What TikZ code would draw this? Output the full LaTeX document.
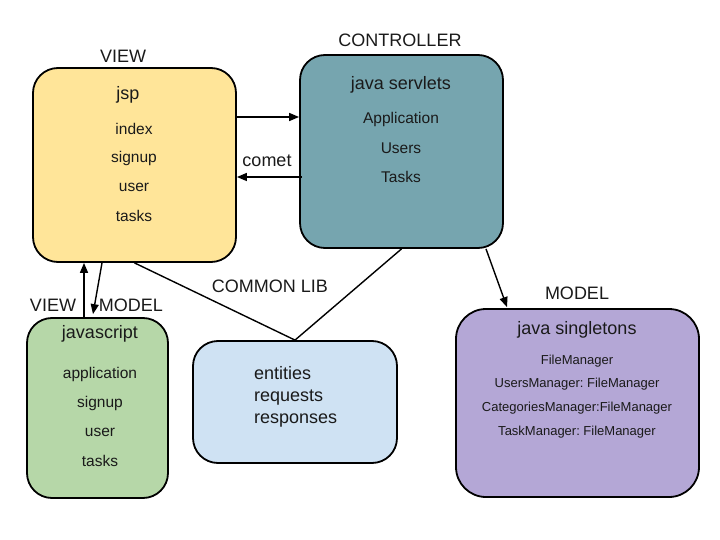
\documentclass[tikz,border=0pt]{standalone}
\usepackage{fontspec}
\setmainfont{Liberation Sans}
\usetikzlibrary{arrows.meta,calc}
\frenchspacing
\definecolor{jspfill}{HTML}{FFE599}
\definecolor{ctrlfill}{HTML}{76A5AF}
\definecolor{jsfill}{HTML}{B6D7A8}
\definecolor{libfill}{HTML}{CFE2F3}
\definecolor{modelfill}{HTML}{B4A7D6}
\definecolor{txt}{HTML}{1A1A1A}
\tikzset{
  box/.style={draw=black, line width=1.8pt, rounded corners=25pt, inner sep=0pt},
  lbl/.style={inner sep=0pt, text=txt, font=\fontsize{18}{20}\selectfont},
  ttl/.style={inner sep=0pt, text=txt, font=\fontsize{18}{20}\selectfont},
  item/.style={inner sep=0pt, text=txt, font=\fontsize{15.5}{18}\selectfont},
  small/.style={inner sep=0pt, text=txt, font=\fontsize{13}{15}\selectfont},
  arr/.style={line width=1.4pt, -{Triangle[length=10pt,width=8pt]}},
  conn/.style={line width=1.4pt}
}
\begin{document}
\begin{tikzpicture}[x=1pt,y=-1pt]
\useasboundingbox (0,0) rectangle (720,540);
% boxes
\node[box, fill=jspfill, minimum width=203pt, minimum height=194pt] (jsp) at (134.5,165) {};
\node[box, fill=ctrlfill, minimum width=203pt, minimum height=193pt] (ctrl) at (401.5,151.5) {};
\node[box, fill=jsfill, minimum width=141pt, minimum height=180pt] (js) at (97.5,408) {};
\node[box, fill=libfill, minimum width=204pt, minimum height=122pt] (lib) at (295,402) {};
\node[box, fill=modelfill, minimum width=243pt, minimum height=188pt, rounded corners=30pt] (model) at (577.5,403) {};
% labels
\node[lbl] (lview) at (123,56) {VIEW};
\node[lbl] (lctrl) at (400,40) {CONTROLLER};
\node[lbl] (lmodel) at (577,293) {MODEL};
\node[lbl] (llib) at (270,286) {COMMON LIB};
\node[lbl] (lview2) at (53,305) {VIEW};
\node[lbl] (lmodel2) at (131,305) {MODEL};
\node[lbl] (lcomet) at (267,161) {comet};
% jsp text
\node[ttl] (tjsp) at (128,95) {jsp};
\node[item] (j1) at (134,129) {index};
\node[item] (j2) at (134,158) {signup};
\node[item] (j3) at (134,187) {user};
\node[item] (j4) at (134,216) {tasks};
% controller text
\node[ttl] (tctrl) at (401,85) {java servlets};
\node[item] (c1) at (401,119) {Application};
\node[item] (c2) at (401,148) {Users};
\node[item] (c3) at (401,177) {Tasks};
% javascript text
\node[ttl] (tjs) at (100,334) {javascript};
\node[item] (s1) at (100,374) {application};
\node[item] (s2) at (100,403) {signup};
\node[item] (s3) at (100,432) {user};
\node[item] (s4) at (100,461) {tasks};
% common lib text
\node[ttl, align=left, anchor=west, font=\fontsize{18}{22}\selectfont] (tlib) at (254,397) {entities\\requests\\responses};
% model text
\node[ttl] (tmodel) at (577,330) {java singletons};
\node[small] (m1) at (577,361) {FileManager};
\node[small] (m2) at (577,384) {UsersManager: FileManager};
\node[small] (m3) at (577,408) {CategoriesManager:FileManager};
\node[small] (m4) at (577,432) {TaskManager: FileManager};
% connectors
\draw[arr] ([yshift=48pt]jsp.east) -- ([yshift=34.5pt]ctrl.west);
\draw[arr] ([xshift=3pt,yshift=-25.5pt]ctrl.west) -- ([yshift=-12pt]jsp.east);
\draw[arr] ([xshift=84.5pt]ctrl.south) -- ([xshift=-70.5pt,yshift=1pt]model.north);
\draw[conn] (jsp.south) -- (lib.north);
\draw[conn] (ctrl.south) -- (lib.north);
\draw[arr] ([xshift=-13.5pt]js.north) -- ([xshift=-50.5pt]jsp.south);
\draw[arr] ([xshift=-32.5pt]jsp.south) -- ([xshift=-4.5pt,yshift=3pt]js.north);
\end{tikzpicture}
\end{document}
